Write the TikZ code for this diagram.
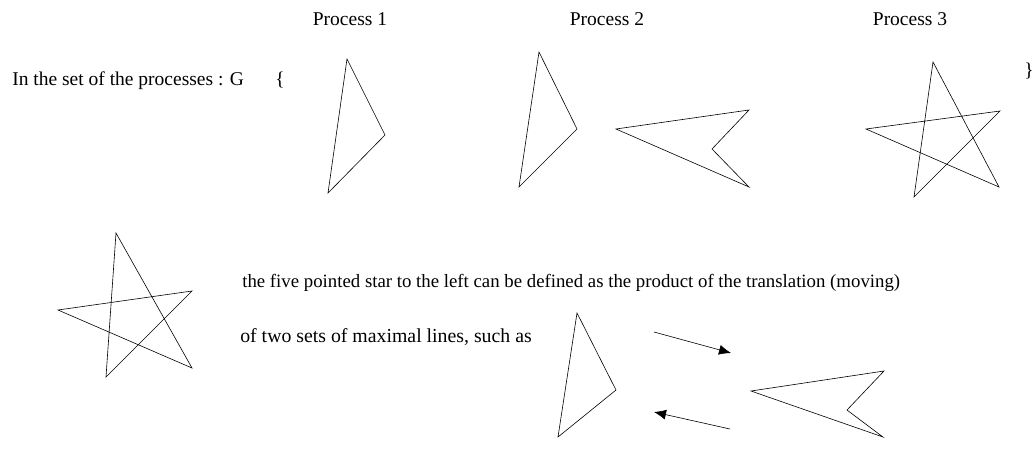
\documentclass[tikz,border=0pt]{standalone}
\usepackage{fontspec}
\setmainfont{Liberation Serif}
\usepackage{tikz}
\usetikzlibrary{arrows.meta}

\begin{document}
\begin{tikzpicture}[x=1pt, y=-1pt, line width=0.6pt, every node/.style={inner sep=0pt, font=\fontsize{19.5}{23}\selectfont}, figure/.style={draw, line join=miter}, move/.style={-{Latex[length=12pt, width=10pt]}}]
        \useasboundingbox (0,0) rectangle (1033,448);

        \node (intro) [anchor=base west] at (12,85) {In the set of the processes : G};
        \node (open) [anchor=base west] at (275,85) {\{};
        \node (close) [anchor=base] at (1029,76) {\}};

        \node (proc1) [anchor=base] at (350,25) {Process 1};
        \node (proc2) [anchor=base] at (607,25) {Process 2};
        \node (proc3) [anchor=base] at (910,25) {Process 3};

        % process 1
        \draw[figure] (347,59) -- (385,135) -- (328,193) -- cycle;

        % process 2
        \draw[figure] (539,52) -- (577,129) -- (519,187) -- cycle;
        \draw[figure] (616,129) -- (749,110) -- (712,149) -- (749,187) -- cycle;

        % process 3
        \draw[figure] (933,62) -- (914,197) -- (1000,111) -- (866,129) -- (999,187) -- cycle;

        % star on the left
        \draw[figure] (116,233) -- (106,377) -- (192,291) -- (58,310) -- (192,368) -- cycle;

        \node (line1) [anchor=base west, font=\fontsize{18.8}{22}\selectfont] at (242,287) {the five pointed star to the left can be defined as the product of the translation (moving)};
        \node (line2) [anchor=base west, font=\fontsize{19.8}{24}\selectfont] at (240,342) {of two sets of maximal lines, such as};

        % the two sets of lines
        \draw[figure] (577,313) -- (616,390) -- (558,437) -- cycle;
        \draw[figure] (751,391) -- (884,371) -- (847,410) -- (883,437) -- cycle;

        \coordinate (go1) at (654,332);
        \coordinate (to1) at (731,353);
        \coordinate (go2) at (730,429);
        \coordinate (to2) at (654,412);
        \draw[move] (go1) -- (to1);
        \draw[move] (go2) -- (to2);
\end{tikzpicture}
\end{document}
